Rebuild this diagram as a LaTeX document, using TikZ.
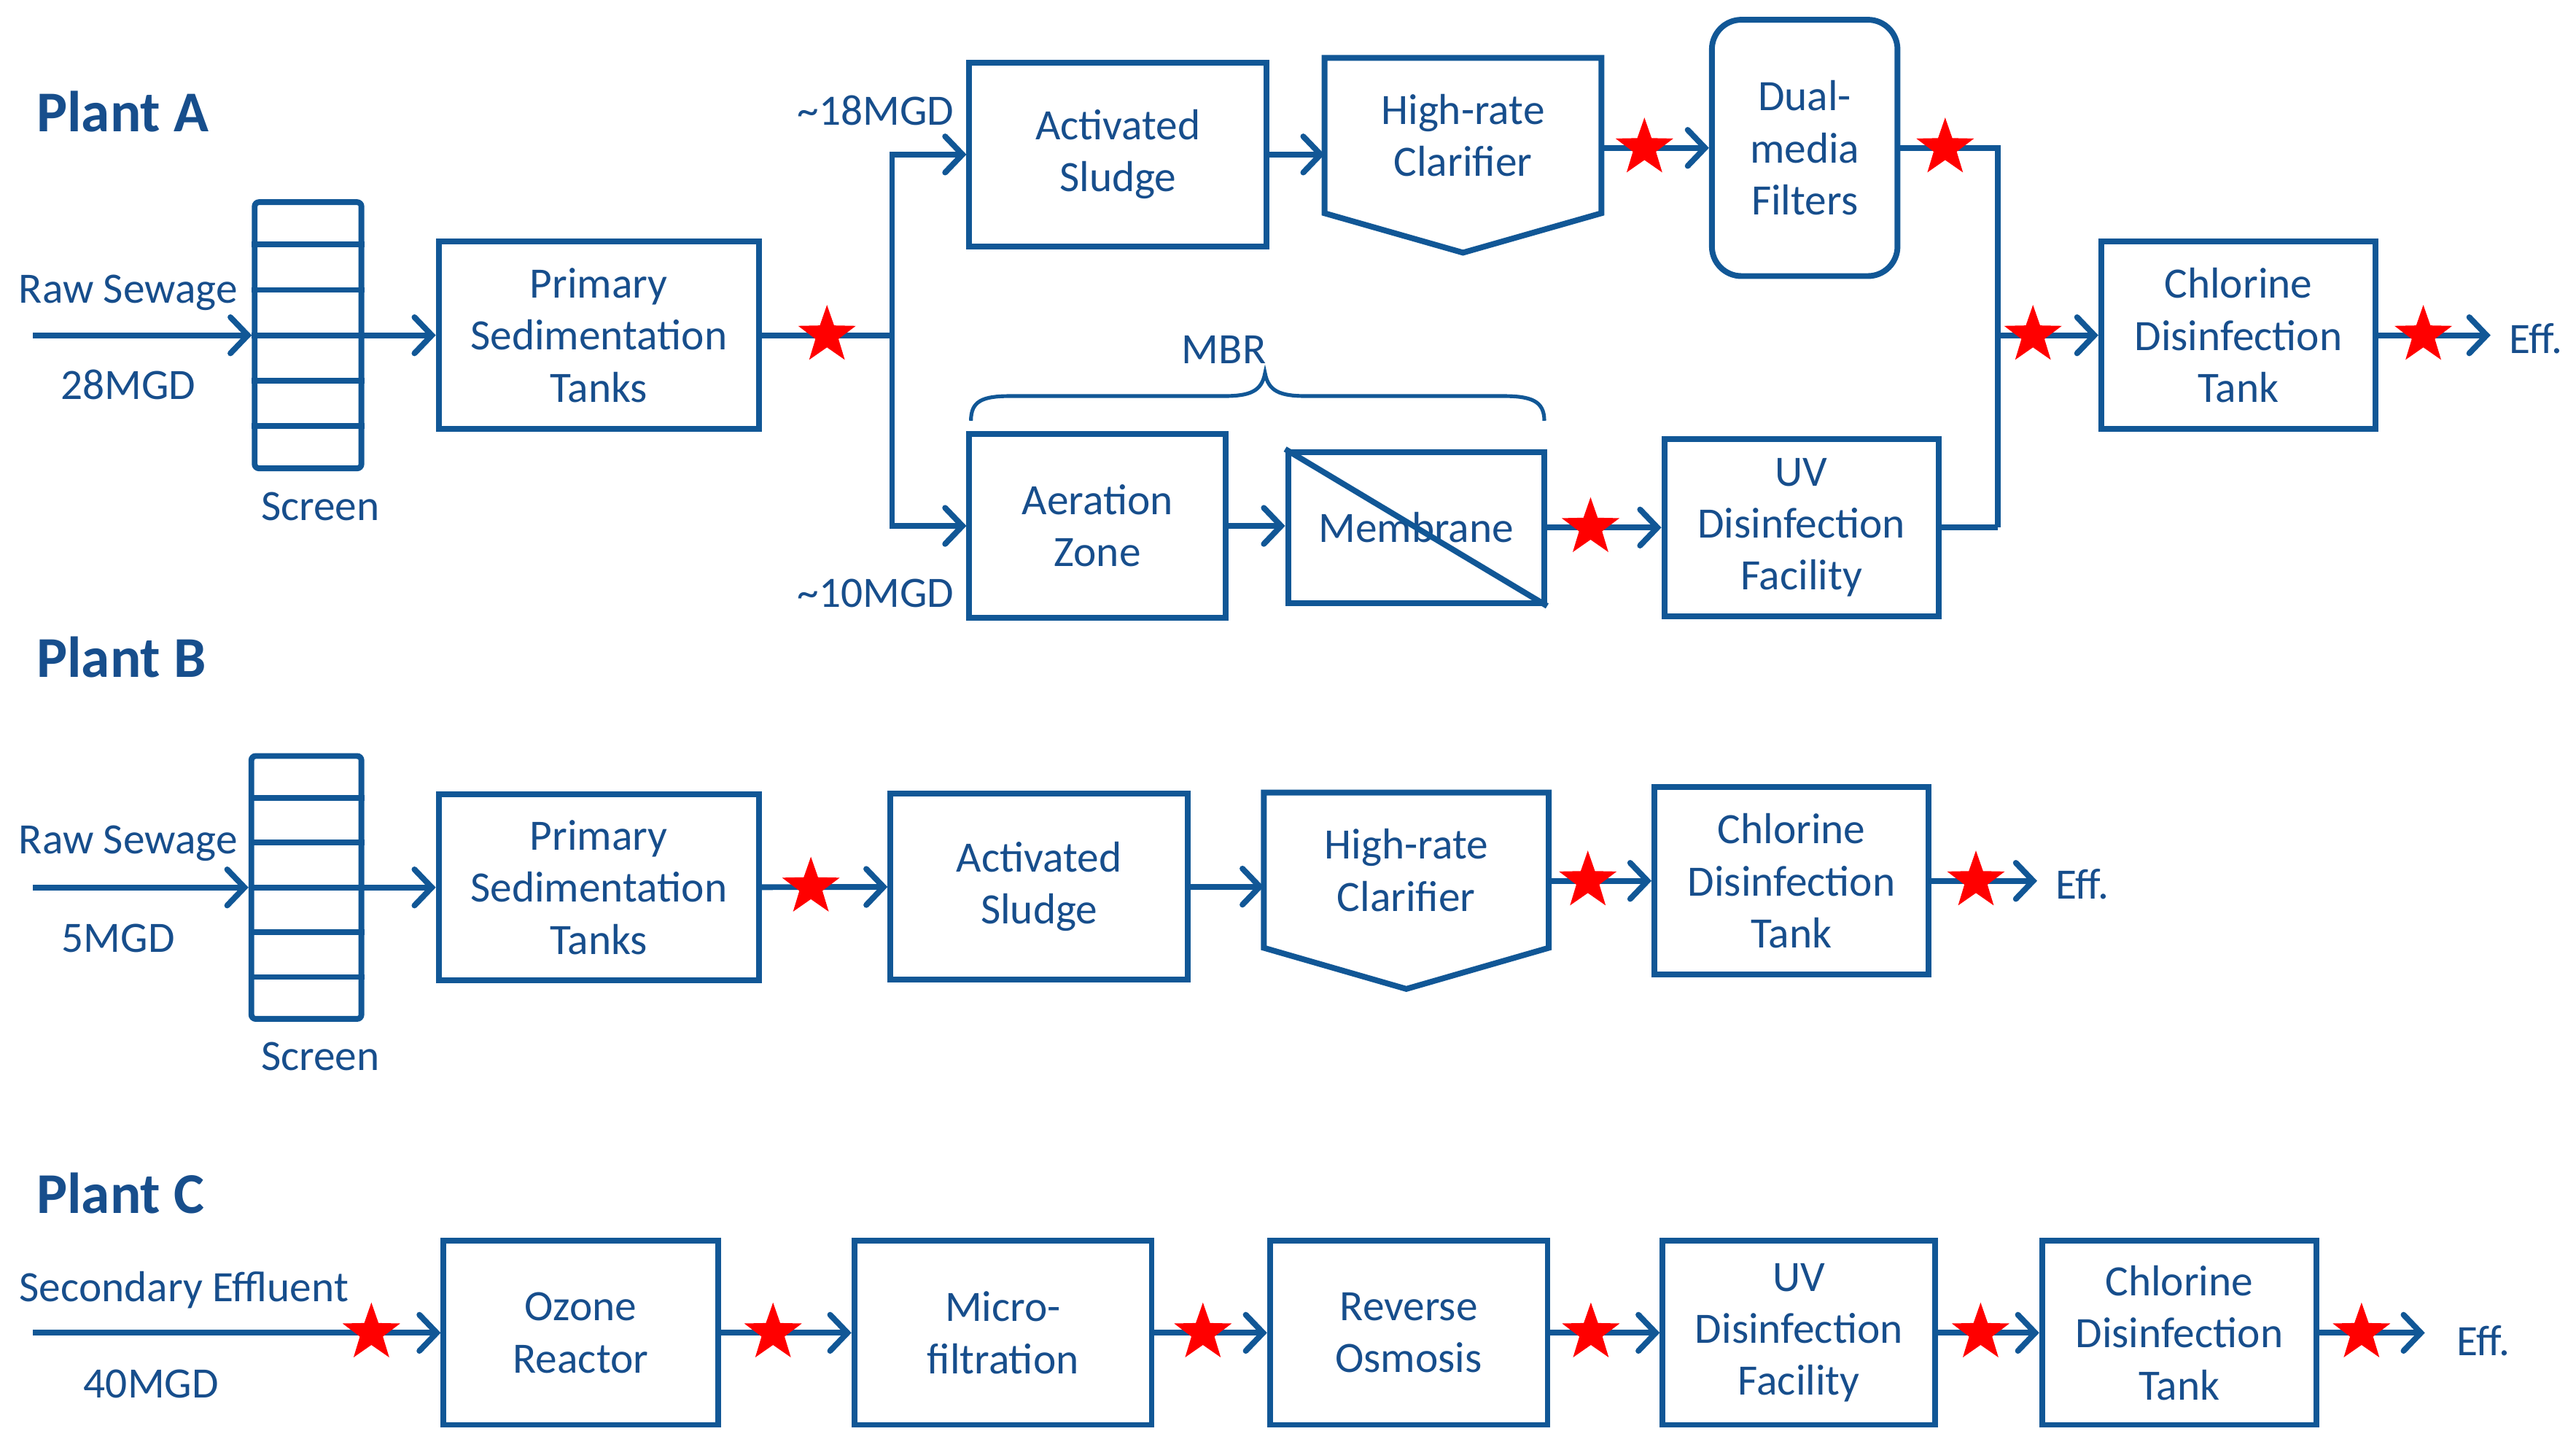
\documentclass[tikz,border=0pt]{standalone}
\usepackage{fontspec}
\setmainfont{Carlito}
\usetikzlibrary{arrows.meta,shapes.geometric,calc}

\definecolor{lineblue}{RGB}{17,87,150}
\definecolor{textblue}{RGB}{23,78,140}

\tikzset{
  unit/.style={draw=lineblue, line width=2pt, text=textblue, align=center,
    font=\fontsize{15}{18}\selectfont, inner sep=0pt},
  note/.style={text=textblue, align=center, font=\fontsize{15}{18}\selectfont, inner sep=0pt},
  plant/.style={text=textblue, font=\bfseries\fontsize{20}{24}\selectfont, anchor=west, inner sep=0pt},
  screenbox/.style={draw=lineblue, line width=2pt, rounded corners=1.5pt, inner sep=0pt},
  pipe/.style={draw=lineblue, line width=2pt},
  feed/.style={pipe, -{Straight Barb[length=6pt,width=12.5pt,line cap=round]}},
  hit/.style={star, star points=5, star point ratio=2.5, fill=red, draw=none,
    minimum size=21pt, inner sep=0pt, pos=0.4},
}

\begin{document}
\begin{tikzpicture}[x=0.02cm, y=-0.02cm]
\useasboundingbox (0,0) rectangle (1568,882);

% Plant A
\node[plant] (plantA) at (22,68) {Plant A};
\node[note] (rawA) at (78,178) {Raw Sewage};
\node[note] (mgdA) at (78,234) {28MGD};
\coordinate (inA) at (20,204);
\node[screenbox, minimum width=1.3cm, minimum height=3.24cm] (scrA) at (187.5,204) {};
\node[note] (scrtA) at (195,308) {Screen};
\node[unit, minimum width=3.9cm, minimum height=2.28cm] (primA) at (364.5,204) {Primary\\Sedimentation\\Tanks};
\coordinate (jA) at (543,204);
\node[note] (hiA) at (533,67) {\textasciitilde18MGD};
\node[note] (loA) at (533,361) {\textasciitilde10MGD};
\node[unit, minimum width=3.62cm, minimum height=2.24cm] (actA) at (680.5,94) {Activated\\Sludge};
\node[unit, draw=none, minimum width=3.3cm, minimum height=1.82cm] (clarA) at (890.5,82.5) {High-rate\\Clarifier};
\node[unit, rounded corners=0.36cm, minimum width=2.26cm, minimum height=3.12cm] (dualA) at (1098.5,90) {Dual-\\media\\Filters};
\node[unit, minimum width=3.34cm, minimum height=2.28cm] (chlA) at (1362.5,204) {Chlorine\\Disinfection\\Tank};
\coordinate (effA) at (1516,204);
\node[note, anchor=west] (efftA) at (1527,206) {Eff.};
\node[unit, minimum width=3.12cm, minimum height=2.24cm] (aerA) at (668,320) {Aeration\\Zone};
\node[unit, minimum width=3.12cm, minimum height=1.84cm] (memA) at (862,321) {Membrane};
\node[unit, minimum width=3.34cm, minimum height=2.16cm] (uvA) at (1096.5,321) {UV\\Disinfection\\Facility};
\coordinate (mA) at (1216,204);
\node[note] (mbr) at (745,213) {MBR};

\foreach \k in {1,...,5}
  \draw[pipe] ($(scrA.north west)!\k/6!(scrA.south west)$) -- ($(scrA.north east)!\k/6!(scrA.south east)$);
\draw[feed] (inA) -- (scrA);
\draw[feed] (scrA) -- (primA);
\draw[pipe] (primA) -- node[hit, pos=0.5]{} (jA);
\draw[feed] (jA) |- (actA);
\draw[feed] (jA) |- (aerA);
\draw[feed] (actA) -- (actA -| clarA.west);
\draw[pipe] (clarA.north west) -- (clarA.north east) -- (clarA.south east)
  -- ($(clarA.south)+(0,24)$) -- (clarA.south west) -- cycle;
\draw[feed] (dualA -| clarA.east) -- node[hit]{} (dualA);
\draw[pipe] (dualA) -- node[hit, pos=0.46]{} (dualA -| mA) -- (uvA -| mA);
\draw[pipe] (uvA) -- (uvA -| mA);
\draw[feed] (mA) -- node[hit, pos=0.35]{} (chlA);
\draw[feed] (chlA) -- node[hit]{} (effA);
\draw[feed] (aerA) -- (aerA -| memA.west);
\draw[pipe] (memA.north west) -- (memA.south east);
\draw[feed] (memA) -- node[hit, pos=0.38]{} (uvA);
\draw[lineblue, line width=1.3pt] (591,256) .. controls (591,244) and (598,241) .. (615,241)
  -- (745,241) .. controls (761,241) and (768,238) .. (770,227)
  .. controls (772,238) and (779,241) .. (795,241) -- (915,241)
  .. controls (932,241) and (940,244) .. (940,256);

% Plant B
\node[plant] (plantB) at (22,400) {Plant B};
\node[note] (rawB) at (78,513) {Raw Sewage};
\node[note] (mgdB) at (72,571) {5MGD};
\coordinate (inB) at (20,540);
\node[screenbox, minimum width=1.34cm, minimum height=3.2cm] (scrB) at (186.5,540) {};
\node[note] (scrtB) at (195,643) {Screen};
\node[unit, minimum width=3.9cm, minimum height=2.26cm] (primB) at (364.5,540) {Primary\\Sedimentation\\Tanks};
\node[unit, minimum width=3.62cm, minimum height=2.26cm] (actB) at (632.5,539.5) {Activated\\Sludge};
\node[unit, draw=none, minimum width=3.4cm, minimum height=1.82cm] (clarB) at (856,529.5) {High-rate\\Clarifier};
\node[unit, minimum width=3.34cm, minimum height=2.28cm] (chlB) at (1090.5,536) {Chlorine\\Disinfection\\Tank};
\coordinate (effB) at (1240,536);
\node[note, anchor=west] (efftB) at (1251,538) {Eff.};

\foreach \k in {1,...,5}
  \draw[pipe] ($(scrB.north west)!\k/6!(scrB.south west)$) -- ($(scrB.north east)!\k/6!(scrB.south east)$);
\draw[feed] (inB) -- (scrB);
\draw[feed] (scrB) -- (primB);
\draw[feed] (primB) -- node[hit, pos=0.39]{} (actB);
\draw[feed] (actB) -- (actB -| clarB.west);
\draw[pipe] (clarB.north west) -- (clarB.north east) -- (clarB.south east)
  -- ($(clarB.south)+(0,25)$) -- (clarB.south west) -- cycle;
\draw[feed] (chlB -| clarB.east) -- node[hit, pos=0.38]{} (chlB);
\draw[feed] (chlB) -- node[hit, pos=0.42]{} (effB);

% Plant C
\node[plant] (plantC) at (22,726) {Plant C};
\node[note] (secC) at (112,785) {Secondary Effluent};
\node[note] (mgdC) at (92,842) {40MGD};
\coordinate (inC) at (20,811);
\node[unit, minimum width=3.34cm, minimum height=2.24cm] (ozC) at (353.5,811) {Ozone\\Reactor};
\node[unit, minimum width=3.62cm, minimum height=2.24cm] (mfC) at (610.5,811) {Micro-\\filtration};
\node[unit, minimum width=3.38cm, minimum height=2.24cm] (roC) at (857.5,811) {Reverse\\Osmosis};
\node[unit, minimum width=3.32cm, minimum height=2.24cm] (uvC) at (1095,811) {UV\\Disinfection\\Facility};
\node[unit, minimum width=3.34cm, minimum height=2.24cm] (chlC) at (1326.5,811) {Chlorine\\Disinfection\\Tank};
\coordinate (effC) at (1476,811);
\node[note, anchor=west] (efftC) at (1495,816) {Eff.};

\draw[feed] (inC) -- node[hit, pos=0.83]{} (ozC);
\draw[feed] (ozC) -- node[hit]{} (mfC);
\draw[feed] (mfC) -- node[hit, pos=0.43]{} (roC);
\draw[feed] (roC) -- node[hit, pos=0.37]{} (uvC);
\draw[feed] (uvC) -- node[hit, pos=0.42]{} (chlC);
\draw[feed] (chlC) -- node[hit]{} (effC);
\end{tikzpicture}
\end{document}
